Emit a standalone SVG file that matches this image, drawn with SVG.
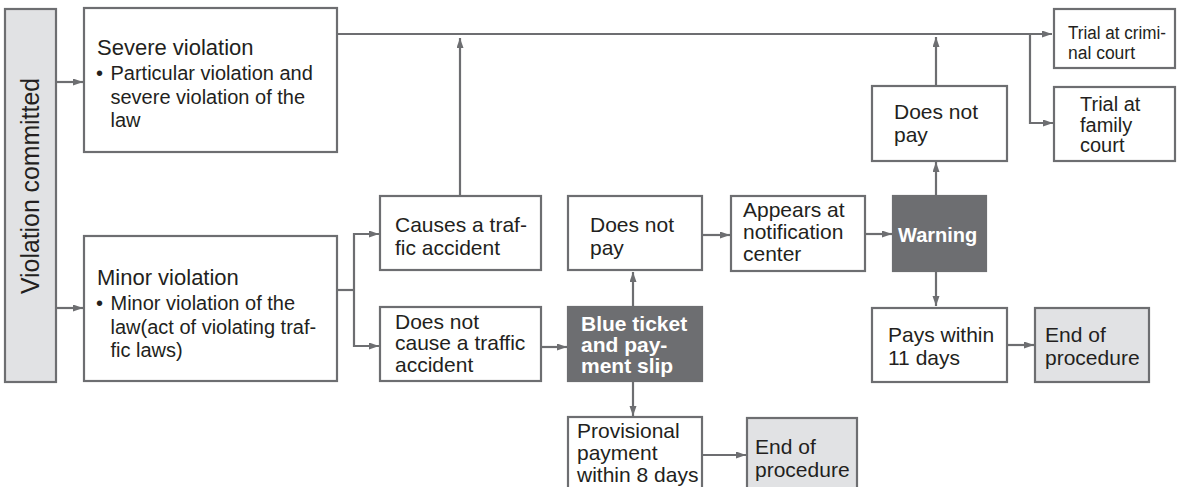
<svg xmlns="http://www.w3.org/2000/svg" width="1179" height="487" viewBox="0 0 1179 487">
<defs>
<marker id="ah" markerUnits="userSpaceOnUse" markerWidth="11" markerHeight="8" refX="10" refY="3.5" orient="auto"><path d="M0,0 L10,3.5 L0,7 z" fill="#6d6e71"/></marker>
<style>
.box{fill:#fff;stroke:#6d6e71;stroke-width:2.2}
.dark{fill:#6d6e71;stroke:#6d6e71;stroke-width:2.2}
.light{fill:#e1e2e4;stroke:#6d6e71;stroke-width:2.2}
.t{font-family:"Liberation Sans",Arial,sans-serif;font-size:21px;fill:#231f20}
.b{font-family:"Liberation Sans",Arial,sans-serif;font-size:21px;font-weight:bold;fill:#fff}
.c line,.c path{fill:none;stroke:#6d6e71;stroke-width:2.2}
.a{marker-end:url(#ah)}
</style>
</defs>
<rect width="1179" height="487" fill="#fff"/>
<g class="c" id="connectors">
<path class="a" d="M56,82 H83"/>
<path class="a" d="M56,308 H83"/>
<path class="a" d="M337,34 H1052"/>
<path class="a" d="M1030,34 V123 H1053"/>
<path class="a" d="M460,196 V38"/>
<path class="a" d="M936,86 V37"/>
<path class="a" d="M936,196 V162"/>
<path class="a" d="M936,271 V306"/>
<path d="M337,290 H354"/>
<path class="a" d="M354,290 V234 H379"/>
<path class="a" d="M354,290 V346 H379"/>
<path class="a" d="M541,347 H567"/>
<path class="a" d="M633,307 V272"/>
<path class="a" d="M633,381 V416"/>
<path class="a" d="M702,455 H746"/>
<path class="a" d="M702,235 H730"/>
<path class="a" d="M865,234 H892"/>
<path class="a" d="M1007,345 H1034"/>
</g>
<g id="violation">
<rect class="light" x="5" y="9" width="51" height="373"/>
<text class="t" transform="translate(39,294) rotate(-90)" textLength="216" lengthAdjust="spacingAndGlyphs" style="font-size:26px">Violation committed</text>
</g>
<g id="severe">
<rect class="box" x="84" y="8" width="253" height="144"/>
<text class="t" x="97" y="55" style="font-size:22px">Severe violation</text>
<text class="t" x="96" y="80" style="font-size:20px">•</text>
<text class="t" x="110.5" y="80" style="font-size:20px">Particular violation and</text>
<text class="t" x="110.5" y="103.5" style="font-size:20px">severe violation of the</text>
<text class="t" x="110.5" y="127" style="font-size:20px">law</text>
</g>
<g id="minor">
<rect class="box" x="84" y="236" width="253" height="145"/>
<text class="t" x="97" y="285" style="font-size:22px">Minor violation</text>
<text class="t" x="96" y="310" style="font-size:20px">•</text>
<text class="t" x="110.5" y="310" style="font-size:20px">Minor violation of the</text>
<text class="t" x="110.5" y="333.5" style="font-size:20px">law(act of violating traf-</text>
<text class="t" x="110.5" y="357" style="font-size:20px">fic laws)</text>
</g>
<g id="causes">
<rect class="box" x="380" y="196" width="161" height="74"/>
<text class="t" x="395" y="231.5">Causes a traf-</text>
<text class="t" x="395" y="255">fic accident</text>
</g>
<g id="notcause">
<rect class="box" x="380" y="307" width="161" height="74"/>
<text class="t" x="395" y="328.5">Does not</text>
<text class="t" x="395" y="350">cause a traffic</text>
<text class="t" x="395" y="371.5">accident</text>
</g>
<g id="notpay1">
<rect class="box" x="568" y="196" width="134" height="74"/>
<text class="t" x="590" y="231.5">Does not</text>
<text class="t" x="590" y="255">pay</text>
</g>
<g id="blueticket">
<rect class="dark" x="568" y="307" width="134" height="74"/>
<text class="b" x="581" y="330.5">Blue ticket</text>
<text class="b" x="581" y="351.5">and pay-</text>
<text class="b" x="581" y="372.5">ment slip</text>
</g>
<g id="provisional">
<rect class="box" x="568" y="417" width="134" height="80"/>
<text class="t" x="577" y="437.5">Provisional</text>
<text class="t" x="577" y="459.5">payment</text>
<text class="t" x="577" y="481.5">within 8 days</text>
</g>
<g id="end1">
<rect class="light" x="747" y="418" width="110" height="80"/>
<text class="t" x="755" y="453.5">End of</text>
<text class="t" x="755" y="477">procedure</text>
</g>
<g id="appears">
<rect class="box" x="731" y="196" width="134" height="75"/>
<text class="t" x="743" y="217">Appears at</text>
<text class="t" x="743" y="239">notification</text>
<text class="t" x="743" y="261">center</text>
</g>
<g id="warning">
<rect class="dark" x="893" y="196" width="93" height="75"/>
<text class="b" x="898" y="242" style="font-size:20px">Warning</text>
</g>
<g id="notpay2">
<rect class="box" x="872" y="86" width="135" height="75"/>
<text class="t" x="894" y="119">Does not</text>
<text class="t" x="894" y="141.5">pay</text>
</g>
<g id="pays">
<rect class="box" x="872" y="308" width="135" height="74"/>
<text class="t" x="888" y="341.5">Pays within</text>
<text class="t" x="888" y="365">11 days</text>
</g>
<g id="end2">
<rect class="light" x="1035" y="308" width="114" height="74"/>
<text class="t" x="1045" y="341.5">End of</text>
<text class="t" x="1045" y="365">procedure</text>
</g>
<g id="criminal">
<rect class="box" x="1054" y="9" width="121" height="59"/>
<text class="t" x="1068" y="38.5" style="font-size:18px" textLength="98" lengthAdjust="spacingAndGlyphs">Trial at crimi-</text>
<text class="t" x="1068" y="58.5" style="font-size:18px" textLength="67" lengthAdjust="spacingAndGlyphs">nal court</text>
</g>
<g id="family">
<rect class="box" x="1054" y="87" width="121" height="74"/>
<text class="t" x="1080" y="110.5" style="font-size:20px">Trial at</text>
<text class="t" x="1080" y="131.5" style="font-size:20px">family</text>
<text class="t" x="1080" y="152" style="font-size:20px">court</text>
</g>
</svg>
